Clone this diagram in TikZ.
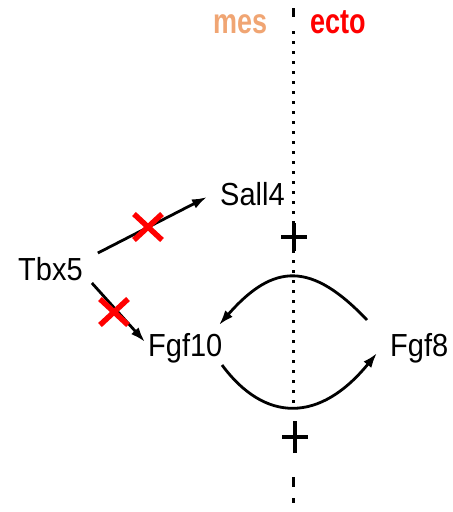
\documentclass[tikz,border=0pt]{standalone}
\usepackage{fontspec}
\usepackage{graphicx}
\setmainfont{Liberation Sans}
\usetikzlibrary{arrows.meta}
\definecolor{mesc}{RGB}{240,165,115}
\definecolor{ectoc}{RGB}{255,0,0}
\begin{document}
\begin{tikzpicture}[x=1pt,y=-1pt,
  gene/.style={anchor=base west,inner sep=0pt,font=\fontsize{29}{29}\selectfont},
  layer/.style={anchor=base west,inner sep=0pt,font=\fontsize{27}{27}\selectfont\bfseries},
  arr/.style={line width=2.8pt,-{Latex[length=15pt,width=10pt]}},
  cross/.style={line width=5.5pt,ectoc},
  plus/.style={line width=4.5pt},
  dots/.style={line width=3pt,dash pattern=on 3pt off 7pt}]
\useasboundingbox (0,0) rectangle (453,512);
% layer labels
\node[layer,text=mesc] (mes) at (213,33) {\scalebox{1}[1.3]{mes}};
\node[layer,text=ectoc] (ecto) at (310,33) {\scalebox{1}[1.3]{ecto}};
% boundary
\draw[line width=3pt] (293,8) -- (293,17);
\draw[dots] (293,31) -- (293,225);
\draw[dots] (293,250) -- (293,405);
\draw[line width=3pt] (293,477) -- (293,487);
\draw[line width=3pt] (293,498) -- (293,503);
% plus signs
\coordinate (p1) at (294,237);
\coordinate (p2) at (295,437);
\draw[plus] ([yshift=-14]p1) -- ([yshift=14]p1) ([xshift=-13]p1) -- ([xshift=13]p1);
\draw[plus] ([yshift=-16]p2) -- ([yshift=16]p2) ([xshift=-13]p2) -- ([xshift=13]p2);
% genes
\node[gene] (tbx) at (18,280) {\scalebox{1}[1.1]{Tbx5}};
\node[gene] (sall) at (220,205) {\scalebox{1}[1.1]{Sall4}};
\node[gene] (fgf10) at (148,356) {\scalebox{1}[1.1]{Fgf10}};
\node[gene] (fgf8) at (390,356) {\scalebox{1}[1.1]{Fgf8}};
% connectors
\draw[arr] ([shift={(15,-27)}]tbx.base east) -- ([shift={(-13,-8)}]sall.base west);
\draw[arr] ([shift={(9,3)}]tbx.base east) -- ([shift={(-3,-14)}]fgf10.base west);
\draw[arr] ([shift={(-23,-36)}]fgf8.base west) .. controls (312,262) and (274,262) .. ([shift={(71,-31)}]fgf10.base west);
\draw[arr] ([shift={(74,9)}]fgf10.base west) .. controls (265,423) and (320,423) .. ([shift={(-13,-3)}]fgf8.base west);
% red crosses
\coordinate (x1) at (148,227);
\coordinate (x2) at (114,312);
\draw[cross] ([shift={(-14,-13)}]x1) -- ([shift={(14,13)}]x1) ([shift={(-14,13)}]x1) -- ([shift={(14,-13)}]x1);
\draw[cross] ([shift={(-14,-13)}]x2) -- ([shift={(14,13)}]x2) ([shift={(-14,13)}]x2) -- ([shift={(14,-13)}]x2);
\end{tikzpicture}
\end{document}
